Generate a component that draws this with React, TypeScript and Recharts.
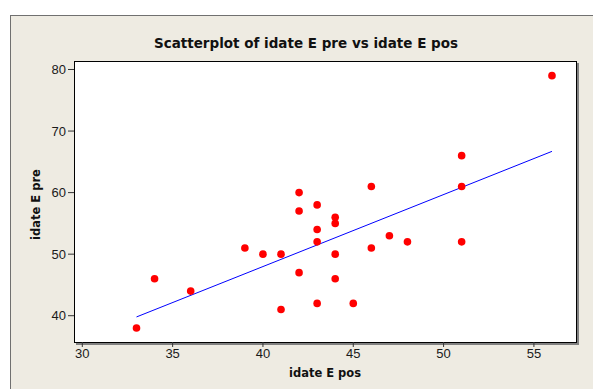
import React from 'react';
import { ScatterChart, Scatter, XAxis, YAxis, Label } from 'recharts';

// idate E pos (x) vs idate E pre (y)
const posValues = [33, 34, 36, 39, 40, 41, 41, 42, 42, 42, 43, 43, 43, 43, 44, 44, 44, 44, 45, 46, 46, 47, 48, 51, 51, 51, 56];
const preValues = [38, 46, 44, 51, 50, 50, 41, 60, 57, 47, 58, 54, 52, 42, 56, 55, 50, 46, 42, 61, 51, 53, 52, 66, 61, 52, 79];

// fitted line end points
const fitPos = [33, 56];
const fitPre = [39.8, 66.7];

const xTicks = [30, 35, 40, 45, 50, 55];
const yTicks = [40, 50, 60, 70, 80];

const points = posValues.map((pos, i) => ({ pos, pre: preValues[i] }));
const fitLine = fitPos.map((pos, i) => ({ pos, pre: fitPre[i] }));

const W = 593;
const H = 389;
const PLOT = { left: 74, top: 61, right: 576, bottom: 342 };

const tickStyle = { fontFamily: '"Liberation Sans", Arial, sans-serif', fontSize: 13, fill: '#1a1a1a' };
const labelStyle = { fontFamily: '"DejaVu Sans", sans-serif', fontSize: 11.5, fontWeight: 'bold', fill: '#111' };

const NoDot = () => <g />;

const App: React.FC = () => {
  return (
    <div style={{ position: 'absolute', left: 0, top: 0, width: W, height: H, background: '#fff', overflow: 'hidden' }}>
      {/* outer panel */}
      <div
        style={{
          position: 'absolute', left: 10, top: 15, width: 620, height: 420,
          background: '#EEEBE2', borderTop: '1px solid #707070', borderLeft: '1px solid #707070',
        }}
      />
      {/* plot area shadow + box */}
      <div
        style={{
          position: 'absolute', left: PLOT.left + 2, top: PLOT.top + 2,
          width: PLOT.right - PLOT.left + 1, height: PLOT.bottom - PLOT.top + 1, background: '#808080',
        }}
      />
      <div
        style={{
          position: 'absolute', left: PLOT.left, top: PLOT.top, boxSizing: 'border-box',
          width: PLOT.right - PLOT.left + 1, height: PLOT.bottom - PLOT.top + 1,
          background: '#fff', border: '1px solid #000',
        }}
      />
      <div
        style={{
          position: 'absolute', left: 0, top: 35, width: 612, textAlign: 'center',
          fontFamily: '"DejaVu Sans", sans-serif', fontWeight: 'bold', fontSize: 13.5, lineHeight: '16px', color: '#111',
        }}
      >
        Scatterplot of idate E pre vs idate E pos
      </div>
      <div style={{ position: 'absolute', left: 0, top: 0 }}>
        <ScatterChart width={W} height={H} margin={{ top: PLOT.top, right: W - PLOT.right, bottom: 0, left: 0 }}>
          <XAxis
            type="number"
            dataKey="pos"
            domain={[29.54, 57.33]}
            ticks={xTicks}
            allowDataOverflow
            height={H - PLOT.bottom}
            axisLine={false}
            tickLine={{ stroke: '#333' }}
            tickSize={5}
            tickMargin={2}
            tick={tickStyle}
          >
            <Label value="idate E pos" position="insideBottom" offset={12} style={labelStyle} />
          </XAxis>
          <YAxis
            type="number"
            dataKey="pre"
            domain={[35.73, 81.38]}
            ticks={yTicks}
            allowDataOverflow
            width={PLOT.left}
            axisLine={false}
            tickLine={{ stroke: '#333' }}
            tickSize={6}
            tickMargin={2}
            tick={tickStyle}
          >
            <Label
              value="idate E pre"
              angle={-90}
              position="insideLeft"
              offset={36}
              dx={0}
              dy={3}
              style={{ ...labelStyle, textAnchor: 'middle' }}
            />
          </YAxis>
          <Scatter
            data={fitLine}
            line={{ stroke: '#0000FF', strokeWidth: 1 }}
            shape={NoDot}
            isAnimationActive={false}
          />
          <Scatter
            data={points}
            fill="#FF0000"
            shape={(props: any) => <circle cx={props.cx} cy={props.cy} r={3.8} fill="#FF0000" />}
            isAnimationActive={false}
          />
        </ScatterChart>
      </div>
    </div>
  );
};

export default App;
